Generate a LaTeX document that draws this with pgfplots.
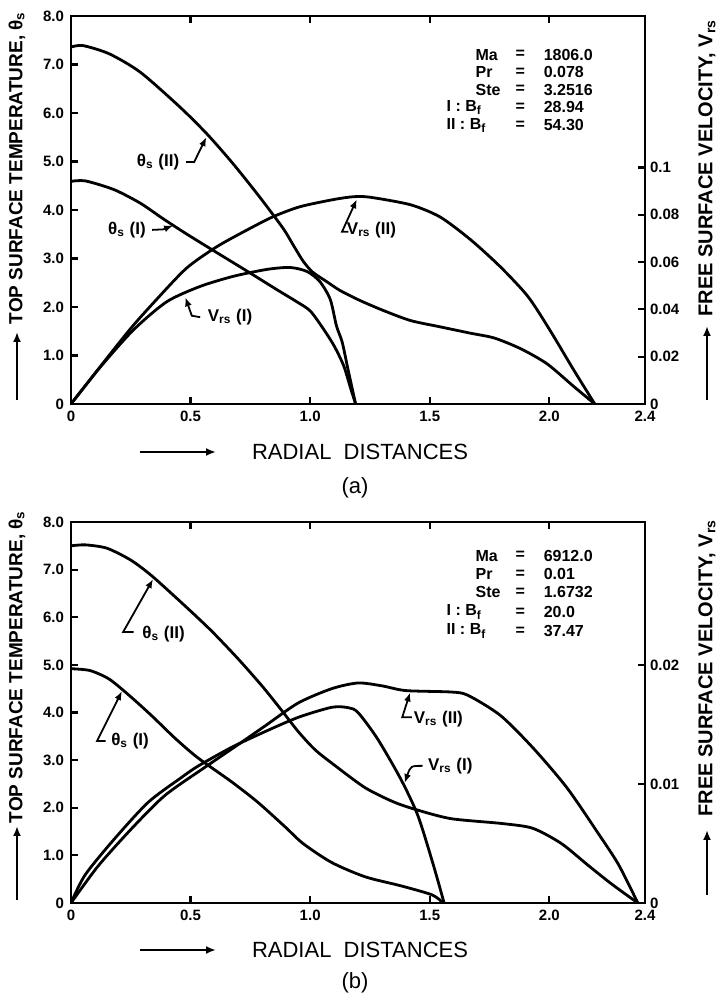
\documentclass[border=0pt]{standalone}
\usepackage{fontspec}
\setmainfont{Liberation Sans}
\usepackage{pgfplots}
\pgfplotsset{compat=1.18}
\usetikzlibrary{arrows.meta}

\pgfplotsset{
  panelL/.style={scale only axis, width=287pt, xmin=0, xmax=2.4, ymin=0, ymax=8,
    axis line style={line width=1.3pt}, tick align=inside, major tick length=3.5pt,
    every tick/.style={black, line width=1.1pt},
    xtick={0,0.5,1,1.5,2,2.4}, xticklabels={0,0.5,1.0,1.5,2.0,2.4},
    ytick={0,1,2,3,4,5,6,7,8}, yticklabels={0,1.0,2.0,3.0,4.0,5.0,6.0,7.0,8.0},
    ytick pos=left, xtick pos=both, xticklabel pos=left,
    ticklabel style={font=\bfseries\fontsize{7.5}{8}\selectfont},
    clip=false},
  panelR/.style={scale only axis, width=287pt, xmin=0, xmax=2.4, ymin=0,
    axis x line=none, axis y line*=right,
    axis line style={line width=1.3pt,-}, tick align=inside, major tick length=3.5pt,
    every tick/.style={black, line width=1.1pt},
    ticklabel style={font=\bfseries\fontsize{7.5}{8}\selectfont},
    yticklabel style={anchor=west, xshift=-1pt},
    scaled y ticks=false},
}
\tikzset{
  curve/.style={black, line width=1.4pt, smooth, tension=0.45},
  lead/.style={black, line width=0.9pt, -{Latex[length=4.5pt,width=3.5pt]}},
  lbl/.style={font=\bfseries\fontsize{8.5}{10}\selectfont, inner sep=0pt},
  par/.style={font=\bfseries\fontsize{8}{9}\selectfont, inner sep=0pt},
}

\begin{document}
\begin{tikzpicture}[x=1pt,y=1pt]
\path[use as bounding box] (0,0) rectangle (359,497.5);

% ================= PANEL (a) =================
\begin{axis}[panelL, at={(35.5pt,295.5pt)}, anchor=south west, height=194pt]
% theta_s (II)
\addplot[curve, no markers] coordinates {
(0,7.36) (0.05,7.39) (0.16,7.22) (0.29,6.84) (0.456,6.12) (0.57,5.56) (0.68,4.94)
(0.79,4.26) (0.887,3.62) (0.93,3.27) (0.97,2.95) (1.01,2.72) (1.07,2.52) (1.125,2.34)
(1.21,2.13) (1.31,1.92) (1.42,1.72) (1.544,1.59) (1.67,1.46) (1.77,1.36) (1.88,1.14)
(1.99,0.83) (2.1,0.37) (2.19,0)};
% theta_s (I)
\addplot[curve, no markers] coordinates {
(0,4.59) (0.06,4.6) (0.18,4.42) (0.29,4.14) (0.385,3.82) (0.485,3.5) (0.61,3.12)
(0.736,2.74) (0.86,2.36) (0.94,2.12) (1.0,1.92) (1.055,1.55) (1.1,1.2) (1.14,0.79)
(1.17,0.31) (1.19,0)};
% labels
\node[lbl] at (axis cs:0.364,4.99) {θ\textsubscript{s} (II)};
\draw[lead] (axis cs:0.481,4.99) -- (axis cs:0.515,4.99) -- (axis cs:0.566,5.5);
\node[lbl] at (axis cs:0.234,3.59) {θ\textsubscript{s} (I)};
\draw[lead] (axis cs:0.339,3.59) -- (axis cs:0.385,3.6) -- (axis cs:0.427,3.68);
\node[lbl] at (axis cs:0.665,1.79) {V\textsubscript{rs} (I)};
\draw[lead] (axis cs:0.54,1.79) -- (axis cs:0.505,1.82) -- (axis cs:0.478,2.2);
\node[lbl, anchor=west] at (axis cs:1.152,3.59) {V\textsubscript{rs} (II)};
\draw[lead] (axis cs:1.16,3.55) -- (axis cs:1.133,3.55) -- (axis cs:1.195,4.22);
% parameters
\node[par, anchor=west] at (axis cs:1.69,7.2) {Ma};
\node[par, anchor=west] at (axis cs:1.69,6.84) {Pr};
\node[par, anchor=west] at (axis cs:1.69,6.48) {Ste};
\node[par, anchor=west] at (axis cs:1.569,6.12) {I : B\textsubscript{f}};
\node[par, anchor=west] at (axis cs:1.569,5.75) {II : B\textsubscript{f}};
\node[par] at (axis cs:1.879,7.2) {=};
\node[par] at (axis cs:1.879,6.84) {=};
\node[par] at (axis cs:1.879,6.48) {=};
\node[par] at (axis cs:1.879,6.12) {=};
\node[par] at (axis cs:1.879,5.75) {=};
\node[par, anchor=west] at (axis cs:1.975,7.2) {1806.0};
\node[par, anchor=west] at (axis cs:1.975,6.84) {0.078};
\node[par, anchor=west] at (axis cs:1.975,6.48) {3.2516};
\node[par, anchor=west] at (axis cs:1.975,6.12) {28.94};
\node[par, anchor=west] at (axis cs:1.975,5.75) {54.30};
\end{axis}
\begin{axis}[panelR, at={(35.5pt,295.5pt)}, anchor=south west, height=194pt, ymax=0.164,
  ytick={0,0.02,0.04,0.06,0.08,0.1}, yticklabels={0,0.02,0.04,0.06,0.08,0.1}]
% V_rs (II)
\addplot[curve, no markers] coordinates {
(0,0) (0.233,0.0299) (0.358,0.0442) (0.484,0.0575) (0.61,0.0665) (0.735,0.0735)
(0.846,0.0792) (0.958,0.0834) (1.097,0.0864) (1.18,0.0876) (1.25,0.0874) (1.42,0.0842)
(1.544,0.079) (1.67,0.0695) (1.795,0.058) (1.91,0.0455) (2.0,0.0316) (2.1,0.0147) (2.19,0)};
% V_rs (I)
\addplot[curve, no markers] coordinates {
(0,0) (0.12,0.0153) (0.26,0.0312) (0.40,0.0432) (0.54,0.0497) (0.68,0.054) (0.82,0.0569)
(0.916,0.0577) (0.987,0.056) (1.04,0.0518) (1.084,0.0442) (1.11,0.033) (1.134,0.0261)
(1.158,0.0147) (1.19,0)};
\end{axis}

% axis titles (a)
\node[rotate=90, font=\bfseries\fontsize{9.5}{11}\selectfont, inner sep=0pt] at (8.5,413.5) {TOP SURFACE TEMPERATURE, θ\textsubscript{s}};
\draw[line width=1.2pt, -{Latex[length=5pt,width=4pt]}] (8.5,297.5) -- (8.5,331.5);
\node[rotate=90, font=\bfseries\fontsize{10}{11}\selectfont, inner sep=0pt] at (353.5,413.5) {FREE SURFACE VELOCITY, V\textsubscript{rs}};
\draw[line width=1.2pt, -{Latex[length=5pt,width=4pt]}] (353.5,297.5) -- (353.5,334.5);
\node[font=\fontsize{11}{12}\selectfont, inner sep=0pt] at (180,271.5) {RADIAL\ \ DISTANCES};
\draw[line width=1.2pt, -{Latex[length=5pt,width=4pt]}] (70,271.5) -- (108,271.5);
\node[font=\fontsize{11}{12}\selectfont, inner sep=0pt] at (177.5,253.5) {(a)};

% ================= PANEL (b) =================
\begin{axis}[panelL, at={(35.5pt,46pt)}, anchor=south west, height=190.5pt]
% theta_s (II)
\addplot[curve, no markers] coordinates {
(0,7.5) (0.06,7.52) (0.15,7.45) (0.25,7.2) (0.34,6.86) (0.485,6.2) (0.59,5.7) (0.70,5.12)
(0.80,4.55) (0.88,4.05) (0.95,3.6) (1.02,3.22) (1.10,2.9) (1.23,2.42) (1.35,2.12)
(1.45,1.95) (1.59,1.77) (1.80,1.67) (1.93,1.57) (2.05,1.25) (2.16,0.8) (2.26,0.4) (2.37,0)};
% theta_s (I)
\addplot[curve, no markers] coordinates {
(0,4.92) (0.08,4.88) (0.16,4.7) (0.25,4.33) (0.34,3.92) (0.435,3.46) (0.53,3.05)
(0.67,2.55) (0.78,2.12) (0.895,1.6) (0.97,1.25) (1.09,0.85) (1.23,0.55) (1.38,0.36)
(1.51,0.17) (1.556,0)};
% labels
\node[lbl] at (axis cs:0.387,5.65) {θ\textsubscript{s} (II)};
\draw[lead] (axis cs:0.262,5.69) -- (axis cs:0.218,5.69) -- (axis cs:0.343,6.8);
\node[lbl] at (axis cs:0.247,3.4) {θ\textsubscript{s} (I)};
\draw[lead] (axis cs:0.145,3.4) -- (axis cs:0.109,3.4) -- (axis cs:0.213,4.45);
\node[lbl] at (axis cs:1.536,3.87) {V\textsubscript{rs} (II)};
\draw[lead] (axis cs:1.425,3.9) -- (axis cs:1.385,3.9) -- (axis cs:1.418,4.42);
\node[lbl] at (axis cs:1.586,2.88) {V\textsubscript{rs} (I)};
\draw[lead] (axis cs:1.47,2.88) .. controls (axis cs:1.42,2.88) .. (axis cs:1.395,2.52);
% parameters
\node[par, anchor=west] at (axis cs:1.69,7.29) {Ma};
\node[par, anchor=west] at (axis cs:1.69,6.91) {Pr};
\node[par, anchor=west] at (axis cs:1.69,6.53) {Ste};
\node[par, anchor=west] at (axis cs:1.569,6.11) {I : B\textsubscript{f}};
\node[par, anchor=west] at (axis cs:1.569,5.71) {II : B\textsubscript{f}};
\node[par] at (axis cs:1.879,7.29) {=};
\node[par] at (axis cs:1.879,6.91) {=};
\node[par] at (axis cs:1.879,6.53) {=};
\node[par] at (axis cs:1.879,6.11) {=};
\node[par] at (axis cs:1.879,5.71) {=};
\node[par, anchor=west] at (axis cs:1.975,7.29) {6912.0};
\node[par, anchor=west] at (axis cs:1.975,6.91) {0.01};
\node[par, anchor=west] at (axis cs:1.975,6.53) {1.6732};
\node[par, anchor=west] at (axis cs:1.975,6.11) {20.0};
\node[par, anchor=west] at (axis cs:1.975,5.71) {37.47};
\end{axis}
\begin{axis}[panelR, at={(35.5pt,46pt)}, anchor=south west, height=190.5pt, ymax=0.032,
  ytick={0,0.01,0.02}, yticklabels={0,0.01,0.02}]
% V_rs (II)
\addplot[curve, no markers] coordinates {
(0,0) (0.114,0.00312) (0.255,0.00628) (0.393,0.00904) (0.56,0.0114) (0.70,0.01332)
(0.812,0.01488) (0.95,0.0168) (1.09,0.018) (1.20,0.01848) (1.30,0.01824) (1.40,0.01784)
(1.59,0.01772) (1.66,0.01744) (1.795,0.01576) (1.933,0.013) (2.075,0.00964) (2.21,0.00568)
(2.29,0.0032) (2.37,0)};
% V_rs (I)
\addplot[curve, no markers] coordinates {
(0,0) (0.059,0.00236) (0.184,0.00544) (0.324,0.00848) (0.463,0.01056) (0.533,0.01152)
(0.672,0.01308) (0.812,0.0144) (0.951,0.0156) (1.091,0.01644) (1.16,0.0164) (1.2,0.016)
(1.28,0.01384) (1.377,0.01048) (1.45,0.00736) (1.515,0.0032) (1.56,0)};
\end{axis}

% axis titles (b)
\node[rotate=90, font=\bfseries\fontsize{9.5}{11}\selectfont, inner sep=0pt] at (8.5,164) {TOP SURFACE TEMPERATURE, θ\textsubscript{s}};
\draw[line width=1.2pt, -{Latex[length=5pt,width=4pt]}] (8.5,47.5) -- (8.5,84.5);
\node[rotate=90, font=\bfseries\fontsize{10}{11}\selectfont, inner sep=0pt] at (353.5,163.5) {FREE SURFACE VELOCITY, V\textsubscript{rs}};
\draw[line width=1.2pt, -{Latex[length=5pt,width=4pt]}] (353.5,50) -- (353.5,82.5);
\node[font=\fontsize{11}{12}\selectfont, inner sep=0pt] at (180,22.5) {RADIAL\ \ DISTANCES};
\draw[line width=1.2pt, -{Latex[length=5pt,width=4pt]}] (70,22.5) -- (108,22.5);
\node[font=\fontsize{11}{12}\selectfont, inner sep=0pt] at (177.5,6) {(b)};
\end{tikzpicture}
\end{document}
